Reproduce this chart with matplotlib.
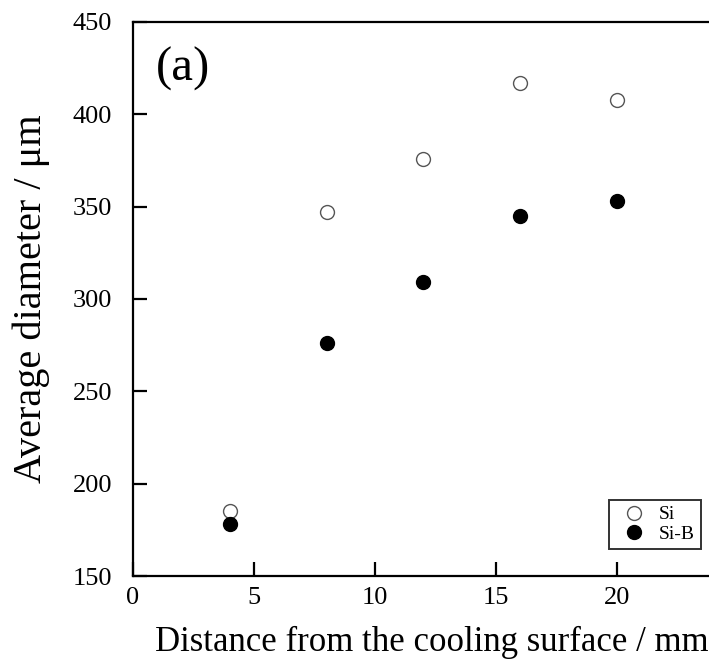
import matplotlib
matplotlib.use("Agg")
from matplotlib import pyplot as plt

# distance from the cooling surface (mm)
distance = [4, 8, 12, 16, 20]
# average diameter (um)
si_diameter = [185, 347, 376, 417, 408]
sib_diameter = [178, 276, 309, 345, 353]

x_ticks = [0, 5, 10, 15, 20]
y_ticks = [150, 200, 250, 300, 350, 400, 450]

plt.rcParams['font.family'] = ['Liberation Serif', 'DejaVu Serif']

fig = plt.figure(figsize=(7.09, 6.64), dpi=100)
ax = fig.add_axes([0.1876, 0.1325, 0.8124, 0.8344])

ax.plot(distance, si_diameter, 'o', markersize=10, markerfacecolor='white',
        markeredgecolor='#555555', markeredgewidth=1.0, label="Si", linestyle='none')
ax.plot(distance, sib_diameter, 'o', markersize=10, color='black',
        label="Si-B", linestyle='none')

ax.set_xlim(0, 23.8)
ax.set_ylim(150, 450)
ax.set_xticks(x_ticks)
ax.set_yticks(y_ticks)

ax.spines['right'].set_visible(False)
for s in ['left', 'bottom', 'top']:
    ax.spines[s].set_linewidth(1.6)

ax.tick_params(direction='in', length=10, width=1.6, labelsize=19,
               top=False, right=False)
ax.tick_params(axis='y', pad=15)
ax.tick_params(axis='x', pad=8)

ax.set_xlabel("Distance from the cooling surface / mm", fontsize=25, labelpad=12)
ax.xaxis.label.set_x(0.518)
ax.set_ylabel("Average diameter / μm", fontsize=29, labelpad=16)

ax.text(0.04, 0.955, "(a)", transform=ax.transAxes, fontsize=35,
        ha='left', va='top')

leg = ax.legend(loc='lower right', bbox_to_anchor=(0.986, 0.049), fontsize=14,
                frameon=True, fancybox=False, edgecolor='black',
                handletextpad=0.3, borderpad=0.3, labelspacing=0.1,
                handlelength=2.0, markerscale=1.0, borderaxespad=0)
leg.get_frame().set_linewidth(1.4)

fig.savefig("out.png", dpi=100)
